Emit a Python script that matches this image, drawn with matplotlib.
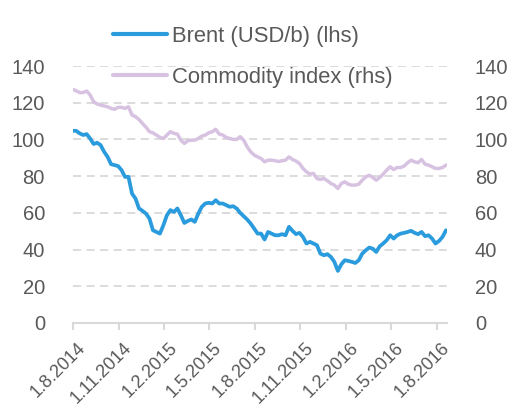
import numpy as np
import pandas as pd
import matplotlib
matplotlib.use("Agg")
import matplotlib.pyplot as plt
from matplotlib.transforms import ScaledTranslation

# weekly observations starting 1.8.2014
START = "2014-08-01"
brent = [104.7, 104.7, 103.3, 102.4, 102.9, 100.5, 97.5, 98.2, 96.9, 93.3,
         90.5, 86.5, 86.0, 85.5, 83.3, 79.6, 79.6, 70.5, 67.8, 62.4,
         61.1, 59.6, 56.9, 50.5, 49.6, 48.7, 53.3, 58.7, 61.5, 60.5,
         62.4, 58.7, 54.5, 55.6, 56.4, 55.1, 59.6, 63.3, 65.1, 65.5,
         65.1, 66.9, 65.1, 65.1, 64.2, 63.3, 63.6, 62.4, 60.0, 58.2,
         56.4, 54.2, 51.5, 48.7, 48.7, 45.5, 49.6, 48.7, 47.8, 47.8,
         48.4, 47.8, 52.4, 50.2, 48.4, 49.1, 46.9, 43.3, 44.2, 43.3,
         42.4, 37.8, 36.9, 37.5, 36.0, 33.3, 28.4, 32.0, 34.2, 33.8,
         33.3, 32.7, 34.2, 37.8, 39.6, 41.1, 40.5, 38.7, 41.8, 43.3,
         45.1, 47.8, 46.0, 47.8, 48.7, 49.1, 49.6, 50.2, 49.1, 48.4,
         49.6, 47.3, 47.8, 46.0, 43.3, 44.7, 46.9, 50.5]
commodity = [127.3, 126.5, 125.5, 125.5, 126.4, 124.2, 120.5, 119.3, 118.7, 118.2,
             117.8, 116.9, 116.4, 117.5, 117.5, 116.9, 117.8, 113.3, 112.4, 110.9,
             108.7, 106.7, 104.2, 103.6, 102.4, 101.1, 100.5, 102.4, 104.2, 103.3,
             102.9, 99.6, 97.8, 99.3, 99.6, 99.6, 100.5, 101.8, 102.4, 103.6,
             104.2, 105.5, 102.9, 102.4, 101.1, 100.5, 100.0, 100.0, 101.5, 99.6,
             96.0, 93.3, 91.5, 90.5, 89.6, 87.8, 88.7, 88.7, 88.4, 88.0,
             88.4, 88.7, 90.5, 89.1, 88.2, 86.9, 84.2, 82.4, 81.1, 81.5,
             78.7, 78.2, 78.7, 77.5, 76.0, 75.1, 73.3, 76.0, 76.9, 75.6,
             75.1, 75.1, 75.6, 77.8, 79.6, 80.5, 79.3, 77.8, 79.3, 81.1,
             83.3, 85.1, 83.6, 84.7, 84.7, 85.5, 87.3, 88.7, 87.8, 87.3,
             89.1, 86.5, 86.0, 85.1, 84.2, 84.2, 84.7, 86.0]
yticks = [0, 20, 40, 60, 80, 100, 120, 140]
xtick_dates = pd.date_range("2014-08-01", "2016-08-01", freq="3MS")

dates = pd.date_range(START, periods=len(brent), freq="7D")

BLUE = "#2a9bdc"
LILAC = "#d8c2e1"
GRID = "#d9d9d9"
TXT = "#595959"

plt.rcParams["font.family"] = ["Liberation Sans", "DejaVu Sans"]

fig = plt.figure(figsize=(5.15, 4.08), dpi=100)
ax = fig.add_axes([72.7 / 515, 1 - 323 / 408, (447 - 72.7) / 515, (323 - 66) / 408])
ax2 = ax.twinx()

l1, = ax.plot(dates, brent, color=BLUE, lw=2.7, solid_capstyle="round", zorder=3)
l2, = ax2.plot(dates, commodity, color=LILAC, lw=2.5, solid_capstyle="round", zorder=3)

for a in (ax, ax2):
    a.set_ylim(0, 140)
    a.set_yticks(yticks)
    a.set_xlim(pd.Timestamp(START), dates[-1] + pd.Timedelta(days=2))
    for s in a.spines.values():
        s.set_visible(False)
    a.tick_params(axis="y", length=0, labelsize=14.5, colors=TXT, pad=20)

ax.spines["bottom"].set_visible(True)
ax.spines["bottom"].set_color(GRID)
ax.spines["bottom"].set_linewidth(1.5)
for v in yticks[1:]:
    ax.axhline(v, color=GRID, lw=1.3, dashes=(4.5, 3), zorder=1)

ax.set_xticks(xtick_dates)
ax.set_xticklabels([f"{d.day}.{d.month}.{d.year}" for d in xtick_dates],
                   rotation=45, ha="right", rotation_mode="anchor")
ax.tick_params(axis="x", length=5, width=1.5, color=GRID, labelsize=13,
               labelcolor=TXT, pad=7)
shift = ScaledTranslation(4 / 100, 0, fig.dpi_scale_trans)
for lab in ax.get_xticklabels():
    lab.set_transform(lab.get_transform() + shift)
ax2.tick_params(axis="x", length=0)

fig.legend([l1, l2], ["Brent (USD/b) (lhs)", "Commodity index (rhs)"],
           loc="upper left", bbox_to_anchor=(113 / 515, 1 - 26 / 408),
           frameon=False, fontsize=15.8, labelcolor=TXT, borderpad=0,
           borderaxespad=0, handlelength=2.45, handletextpad=0.23,
           labelspacing=0.9)
for h in fig.legends[0].legend_handles:
    h.set_linewidth(3)

fig.savefig("out.png", dpi=100)
